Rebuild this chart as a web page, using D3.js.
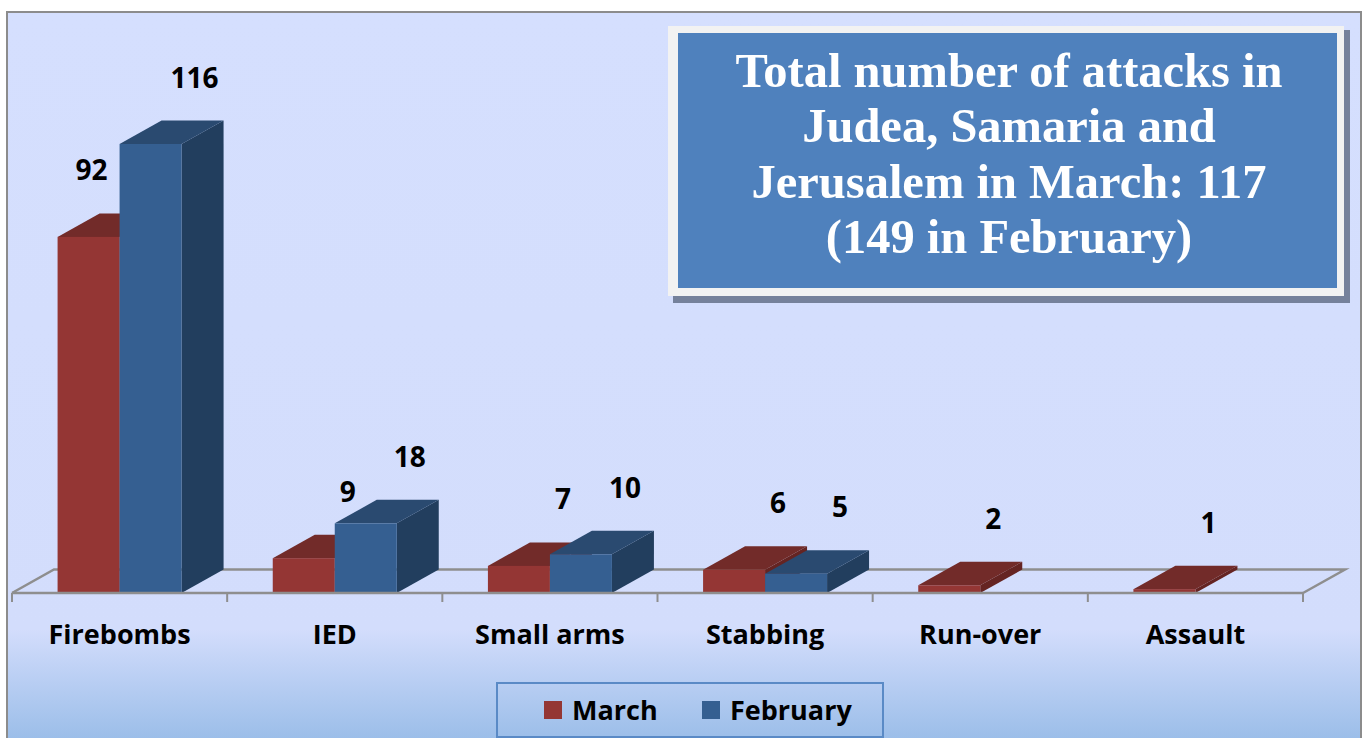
<!DOCTYPE html>
<html><head><meta charset="utf-8">
<script src="https://cdn.jsdelivr.net/npm/d3@7"></script>
<style>html,body{margin:0;padding:0;background:#fff;overflow:hidden}</style>
</head><body>
<svg id="c" width="1366" height="738"></svg>
<script>
const categories = ["Firebombs","IED","Small arms","Stabbing","Run-over","Assault"];
const seriesNames = ["March","February"];
const marchValues = [92, 9, 7, 6, 2, 1];
const februaryValues = [116, 18, 10, 5, null, null];
const titleLines = ["Total number of attacks in","Judea, Samaria and","Jerusalem in March: 117","(149 in February)"];

const svg = d3.select("#c");
const base = 593, floorL = 12, floorR = 1303;
const DX = 42, DY = -23.5;
const colors = {
  March: {front:"#943634", top:"#722B29", side:"#652422"},
  February: {front:"#355F91", top:"#2A4A70", side:"#223E5E"}
};
const defs = svg.append("defs");
const g = defs.append("linearGradient").attr("id","bg")
  .attr("gradientUnits","userSpaceOnUse").attr("x1",0).attr("y1",12).attr("x2",0).attr("y2",738);
g.append("stop").attr("offset","0").attr("stop-color","#D5DFFE");
g.append("stop").attr("offset","0.85").attr("stop-color","#D3DDFC");
g.append("stop").attr("offset","1").attr("stop-color","#9CBEE9");

// frame
svg.append("rect").attr("x",7).attr("y",12).attr("width",1354).attr("height",760)
  .attr("fill","url(#bg)").attr("stroke","#8C8C8C").attr("stroke-width",2);

const x = d3.scaleBand().domain(categories).range([floorL, floorR]).padding(0);
const x1 = d3.scaleBand().domain(seriesNames).range([-62, 62]).padding(0);
const y = d3.scaleLinear().domain([0,116]).range([base,144]);

const floorColor = "#8E8E8E";
const fl = svg.append("g").attr("stroke",floorColor).attr("stroke-width",2.5).attr("fill","none");
fl.append("path").attr("d", `M${floorL},${base}L${floorL+DX},${base+DY}L${floorR+DX},${base+DY}L${floorR},${base}`);

const data = [];
categories.forEach((c,i)=>{
  seriesNames.forEach(s=>{
    const v = s==="March" ? marchValues[i] : februaryValues[i];
    data.push({cat:c, series:s, value:v, i});
  });
});
const barsG = svg.append("g");
const bw = x1.bandwidth();
function barGeom(d){
  const x0 = x(d.cat) + x.bandwidth()/2 + x1(d.series);
  return {x0, x1:x0+bw, yt:y(d.value), yb:base};
}
data.filter(d=>d.value).forEach(d=>{
  const b = barGeom(d);
  const c = colors[d.series];
  const gb = barsG.append("g");
  gb.append("path").attr("d",`M${b.x1},${b.yt}L${b.x1+DX},${b.yt+DY}L${b.x1+DX},${b.yb+DY}L${b.x1},${b.yb}Z`).attr("fill",c.side);
  gb.append("path").attr("d",`M${b.x0},${b.yt}L${b.x0+DX},${b.yt+DY}L${b.x1+DX},${b.yt+DY}L${b.x1},${b.yt}Z`).attr("fill",c.top);
  gb.append("rect").attr("x",b.x0).attr("y",b.yt).attr("width",bw).attr("height",b.yb-b.yt).attr("fill",c.front);
});

svg.append("line").attr("x1",floorL).attr("x2",floorR).attr("y1",base).attr("y2",base).attr("stroke",floorColor).attr("stroke-width",2.5);
const tickXs = categories.map(c=>x(c)).concat([floorR]);
svg.append("g").selectAll("line").data(tickXs).join("line")
  .attr("x1",d=>d).attr("x2",d=>d).attr("y1",base).attr("y2",base+9).attr("stroke",floorColor).attr("stroke-width",2);

svg.append("g").selectAll("text").data(categories).join("text")
  .attr("x",c=>x(c)+x.bandwidth()/2).attr("y",644).attr("text-anchor","middle")
  .attr("font-family","'Open Sans', sans-serif").attr("font-weight",700).attr("font-size",27).attr("fill","#000")
  .text(c=>c);

const lblG = svg.append("g").attr("font-family","'Open Sans', sans-serif").attr("font-weight",700).attr("font-size",28).attr("fill","#000");
data.filter(d=>d.value).forEach(d=>{
  const b = barGeom(d);
  let cx = (b.x0+b.x1)/2 + 44;
  const by = b.yt + DY - 33;
  const t = lblG.append("text").attr("x",cx).attr("y",by).attr("text-anchor","middle").text(d.value);
  const tw = t.node().getComputedTextLength();
  const si = seriesNames.indexOf(d.series);
  if (si < seriesNames.length-1) {
    const nd = data.find(e=>e.cat===d.cat && e.series===seriesNames[si+1]);
    if (nd && nd.value) {
      const nb = barGeom(nd);
      if (cx + tw/2 > nb.x0 && by > nb.yt) {
        cx = nb.x0 - 12 - tw/2;
        t.attr("x",cx);
      }
    }
  }
});

const tb = svg.append("g");
tb.append("rect").attr("x",673).attr("y",30).attr("width",677).attr("height",273).attr("fill","#75819B");
tb.append("rect").attr("x",668).attr("y",26).attr("width",676).attr("height",270).attr("fill","#F2F2F2");
tb.append("rect").attr("x",678).attr("y",33).attr("width",659).attr("height",255).attr("fill","#4F81BD");
tb.append("g").selectAll("text").data(titleLines).join("text")
  .attr("x",1009).attr("y",(d,i)=>87+i*55.3).attr("text-anchor","middle")
  .attr("font-family","'Liberation Serif', 'Times New Roman', serif").attr("font-weight",700).attr("font-size",48.5).attr("fill","#fff")
  .text(d=>d);

const lg = svg.append("g");
lg.append("rect").attr("x",497).attr("y",683).attr("width",386).attr("height",54).attr("fill","none").attr("stroke","#5A8AC6").attr("stroke-width",2);
const legItems = lg.selectAll("g").data(seriesNames).join("g")
  .attr("transform",(d,i)=>`translate(${i===0?544:702},701)`);
legItems.append("rect").attr("width",18).attr("height",18).attr("fill",d=>colors[d].front);
legItems.append("text").attr("x",28).attr("y",19)
  .attr("font-family","'Open Sans', sans-serif").attr("font-weight",700).attr("font-size",27).attr("fill","#000")
  .text(d=>d);
</script>
</body></html>
